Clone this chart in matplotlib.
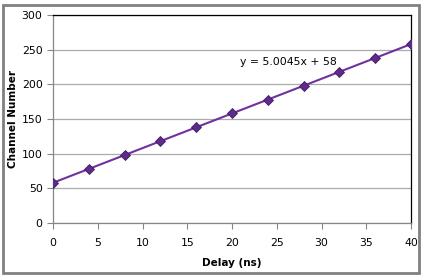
import matplotlib
matplotlib.use("Agg")
import matplotlib.pyplot as plt
from matplotlib.patches import Rectangle

delay = [0, 4, 8, 12, 16, 20, 24, 28, 32, 36, 40]
channel = [58, 78, 98, 118, 138, 158, 178, 198, 218, 238, 258]
xticks = [0, 5, 10, 15, 20, 25, 30, 35, 40]
yticks = [0, 50, 100, 150, 200, 250, 300]
eq_text = "y = 5.0045x + 58"

fig = plt.figure(figsize=(4.24, 2.77), dpi=100)
ax = fig.add_axes([53/424, 1-223/277, (411-53)/424, (223-15)/277])

ax.plot(delay, channel, color="#7030A0", lw=1.5, marker="D", ms=5.5,
        mfc="#5E2A8C", mec="#3F1E60", mew=0.6, zorder=3)
ax.set_xlim(0, 40)
ax.set_ylim(0, 300)
ax.set_xticks(xticks)
ax.set_yticks(yticks)
ax.grid(axis="y", color="#ABABAB", lw=0.9)
ax.set_axisbelow(True)
for s in ["top", "right"]:
    ax.spines[s].set_color("black")
    ax.spines[s].set_linewidth(0.9)
for s in ["left", "bottom"]:
    ax.spines[s].set_color("#868686")
    ax.spines[s].set_linewidth(0.9)
ax.tick_params(axis="both", direction="out", length=4, width=0.8, color="#868686",
               labelsize=7.8, labelcolor="black")
ax.tick_params(axis="x", pad=7)
ax.set_xlabel("Delay (ns)", fontsize=7.5, fontweight="bold", labelpad=7)
ax.set_ylabel("Channel Number", fontsize=7.5, fontweight="bold", labelpad=3)
ax.text(240/424, 1-62/277, eq_text, transform=fig.transFigure, fontsize=7.8,
        va="center", ha="left")

fig.patches.append(Rectangle((3/424, 4/277), 416/424, 268/277, transform=fig.transFigure,
                             fill=False, edgecolor="#808080", lw=2))
fig.savefig("out.png", dpi=100)
